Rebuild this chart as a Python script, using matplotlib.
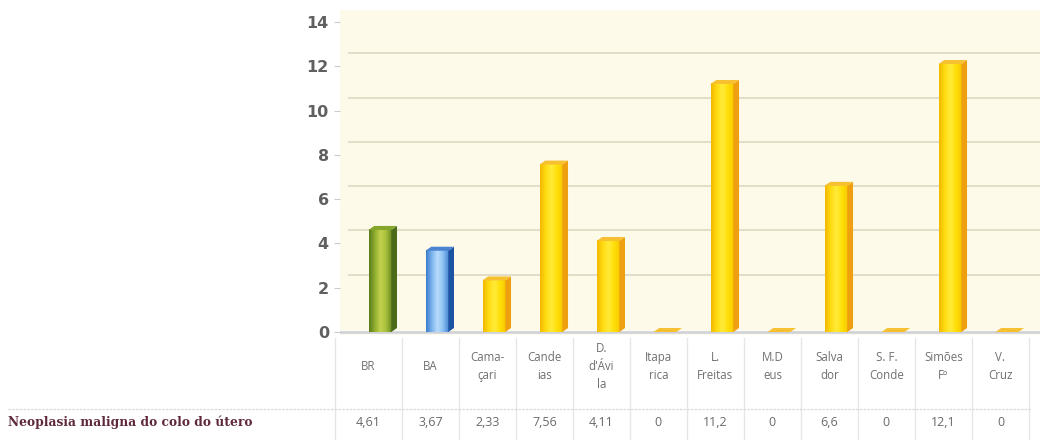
import matplotlib
matplotlib.use("Agg")
import matplotlib.pyplot as plt
import matplotlib.transforms as mtransforms
from matplotlib.patches import Polygon
from matplotlib.colors import LinearSegmentedColormap
import numpy as np

# mortality rate per locality
categories = ["BR", "BA", "Cama-\nçari", "Cande\nias", "D.\nd'Ávi\nla", "Itapa\nrica",
              "L.\nFreitas", "M.D\neus", "Salva\ndor", "S. F.\nConde", "Simões\nFº", "V.\nCruz"]
values = [4.61, 3.67, 2.33, 7.56, 4.11, 0, 11.2, 0, 6.6, 0, 12.1, 0]
value_labels = ["4,61", "3,67", "2,33", "7,56", "4,11", "0", "11,2", "0", "6,6", "0", "12,1", "0"]
row_label = "Neoplasia maligna do colo do útero"
yticks = [0, 2, 4, 6, 8, 10, 12, 14]

# bar palettes: front gradient, side, top
styles = {
    "green": (["#5c7c1c", "#8fae2e", "#c4d24e", "#a6bf3a", "#6c8a22"], "#4b6b1b", "#86a52c"),
    "blue": (["#3c7ccc", "#7cb4ee", "#b8dcfb", "#8cc0f2", "#4886d4"], "#1d53a3", "#4a84d0"),
    "yellow": (["#f3b800", "#ffdc10", "#ffea3a", "#ffdf08", "#f7c800"], "#eea010", "#f6c030"),
}
bar_style = ["green", "blue"] + ["yellow"] * 10

fig = plt.figure(figsize=(10.4, 4.4), dpi=100)
ax = fig.add_axes([340 / 1040, 1 - 335 / 440, 700 / 1040, 325 / 440])
ax.set_facecolor("#fdfaea")

xlim = (-0.70, 11.58)
ylim = (-0.135, 14.54)

# back wall gridlines sit a little above the front scale
wall = ax.transData + mtransforms.ScaledTranslation(0, 0.13, fig.dpi_scale_trans)
for t in yticks[1:]:
    ax.plot([xlim[0] + 0.15, xlim[1]], [t, t], color="#e2ddc6", lw=1.4,
            transform=wall, zorder=1)
ax.plot([xlim[0], xlim[1]], [0, 0], color="#cdd0da", lw=1.8, zorder=1)

half = 0.2
dx, dy = 0.1, 0.18
for i, (v, s) in enumerate(zip(values, bar_style)):
    front, side, top = styles[s]
    cmap = LinearSegmentedColormap.from_list(s, front)
    if v > 0:
        grad = np.linspace(0, 1, 64).reshape(1, -1)
        ax.imshow(grad, cmap=cmap, extent=[i - half, i + half, 0, v],
                  aspect="auto", zorder=3, interpolation="bilinear")
        ax.add_patch(Polygon([(i + half, 0), (i + half + dx, dy),
                              (i + half + dx, v + dy), (i + half, v)],
                             closed=True, facecolor=side, edgecolor="none", zorder=3))
    ax.add_patch(Polygon([(i - half, v), (i + half, v), (i + half + dx, v + dy),
                          (i - half + dx, v + dy)],
                         closed=True, facecolor=top, edgecolor="none", zorder=4))

ax.set_xlim(*xlim)
ax.set_ylim(*ylim)
ax.set_xticks([])
ax.set_yticks(yticks)
ax.tick_params(axis="y", length=4, color="#cccccc", labelsize=11.5, labelcolor="#606060", pad=4)
for lbl in ax.get_yticklabels():
    lbl.set_fontweight("bold")
for side_name in ax.spines:
    ax.spines[side_name].set_visible(False)

# data table under the chart
tab = fig.add_axes([340 / 1040, 0, 700 / 1040, 105 / 440])
tab.set_xlim(*xlim)
tab.set_ylim(105, 0)
tab.axis("off")
sep = [-0.79] + [0.386 + k for k in range(12)]
for x in sep:
    tab.plot([x, x], [3, 104], color="#e6e6e6", lw=1, clip_on=False)
centers = [(sep[k] + sep[k + 1]) / 2 for k in range(12)]
for c, name, val in zip(centers, categories, value_labels):
    tab.text(c, 31, name, ha="center", va="center", fontsize=8.3, color="#707070",
             family="Open Sans", linespacing=1.5)
    tab.text(c, 87, val, ha="center", va="center", fontsize=9, color="#6a6a6a",
             family="Open Sans")

fig.add_artist(plt.Line2D([8 / 1040, 1030 / 1040], [1 - 409 / 440] * 2,
                          color="#d8d8d8", lw=0.9, ls=(0, (2, 1))))
fig.text(8 / 1040, 1 - 422 / 440, row_label, ha="left", va="center", fontsize=8.8,
         color="#5e2a3a", family="DejaVu Serif", fontweight="bold")

fig.savefig("out.png", dpi=100, facecolor="white")
